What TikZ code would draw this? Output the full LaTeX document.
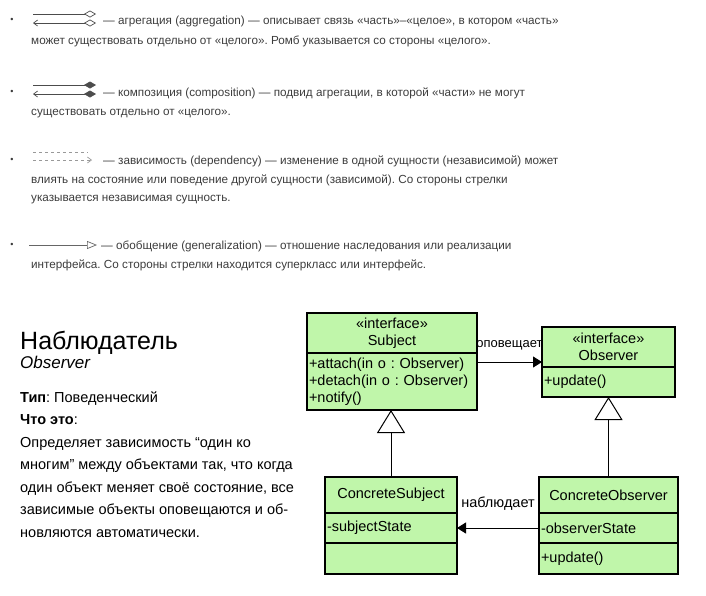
\documentclass[tikz,border=0pt]{standalone}
\usepackage{fontspec}
\setmainfont{Liberation Sans}
\usetikzlibrary{positioning, arrows.meta}
\definecolor{umlgreen}{RGB}{192,246,170}
\definecolor{legendgray}{RGB}{60,60,60}
\frenchspacing

\begin{document}
\begin{tikzpicture}[x=1pt, y=-1pt,
	legend/.style={anchor=base west, inner sep=0pt, text=legendgray, font=\fontsize{11.7}{13}\selectfont},
	bullet/.style={inner sep=0pt, text=legendgray, font=\fontsize{9}{9}\selectfont},
	legline/.style={draw=black!70, line width=0.7pt},
	panel/.style={anchor=base west, inner sep=0pt, font=\fontsize{14.5}{17}\selectfont},
	compartment/.style={draw, line width=1.5pt, fill=umlgreen, outer sep=0pt, inner xsep=2pt, inner ysep=0pt, text width=#1, font=\fontsize{14.5}{17}\selectfont},
	header/.style={compartment=#1, align=center},
	body/.style={compartment=#1, align=left},
	assoc/.style={line width=1pt, -{Triangle[length=9pt, width=11pt]}},
	gen/.style={line width=1pt, -{Triangle[open, length=23pt, width=28pt, fill=white]}},
	edgelabel/.style={inner sep=0pt, font=\fontsize{13}{13}\selectfont}]
	\useasboundingbox (0,0) rectangle (706,595);

	\node[bullet] (b1) at (12,20) {•};
	\node[bullet] (b2) at (12,92) {•};
	\node[bullet] (b3) at (12,160) {•};
	\node[bullet] (b4) at (12,245) {•};

	\draw[legline, -{Diamond[open, length=12pt, width=7pt]}] (33,14) -- (96,14);
	\draw[legline, {Straight Barb[length=4pt, width=6pt]}-{Diamond[open, length=12pt, width=7pt]}] (33,23) -- (96,23);
	\draw[legline, -{Diamond[length=12pt, width=7pt]}] (33,85) -- (96,85);
	\draw[legline, {Straight Barb[length=4pt, width=6pt]}-{Diamond[length=12pt, width=7pt]}] (33,94) -- (96,94);
	\draw[legline, draw=black!40, dashed] (33,152) -- (88,152);
	\draw[legline, draw=black!40, dashed, -{Straight Barb[length=4pt, width=6pt]}] (33,160) -- (92,160);
	\draw[legline, draw=black!60, -{Triangle[open, length=10pt, width=8pt]}] (29,245) -- (97,245);

	\node[legend] (agg1) at (103,24) {— агрегация (aggregation) — описывает связь «часть»–«целое», в котором «часть»};
	\node[legend] (agg2) at (31,44) {может существовать отдельно от «целого». Ромб указывается со стороны «целого».};
	\node[legend] (comp1) at (103,96) {— композиция (composition) — подвид агрегации, в которой «части» не могут};
	\node[legend] (comp2) at (31,115) {существовать отдельно от «целого».};
	\node[legend] (dep1) at (103,164) {— зависимость (dependency) — изменение в одной сущности (независимой) может};
	\node[legend] (dep2) at (31,183) {влиять на состояние или поведение другой сущности (зависимой). Со стороны стрелки};
	\node[legend] (dep3) at (31,201) {указывается независимая сущность.};
	\node[legend] (gen1) at (101,249) {— обобщение (generalization) — отношение наследования или реализации};
	\node[legend] (gen2) at (31,268) {интерфейса. Со стороны стрелки находится суперкласс или интерфейс.};

	\node[panel, font=\fontsize{25}{25}\selectfont] (title) at (20,349) {Наблюдатель};
	\node[panel, font=\fontsize{17}{17}\selectfont\itshape] (subtitle) at (20,368) {Observer};
	\node[panel] (kind) at (20,402) {\textbf{Тип}: Поведенческий};
	\node[panel] (what) at (20,424.5) {\textbf{Что это}:};
	\node[panel] (d1) at (20,447) {Определяет зависимость “один ко};
	\node[panel] (d2) at (20,469.5) {многим” между объектами так, что когда};
	\node[panel] (d3) at (20,492) {один объект меняет своё состояние, все};
	\node[panel] (d4) at (20,514.5) {зависимые объекты оповещаются и об-};
	\node[panel] (d5) at (20,537) {новляются автоматически.};

	\node[header=166pt, minimum height=40pt, anchor=north west] (subjhead) at (307,313) {«interface»\\Subject};
	\node[body=166pt, minimum height=57pt, below=0pt of subjhead] (subjops) {+attach(in o : Observer)\\+detach(in o : Observer)\\+notify()};

	\node[header=129pt, minimum height=40pt, anchor=north west] (obshead) at (542,327) {«interface»\\Observer};
	\node[body=129pt, minimum height=30pt, below=0pt of obshead] (obsops) {+update()};

	\node[header=128pt, minimum height=36pt, anchor=north west] (cshead) at (325,477) {ConcreteSubject};
	\node[body=128pt, minimum height=30pt, below=0pt of cshead] (csatt) {-subjectState};
	\node[body=128pt, minimum height=31pt, below=0pt of csatt] (csops) {};

	\node[header=135pt, minimum height=36pt, anchor=north west] (cohead) at (539,477) {ConcreteObserver};
	\node[body=135pt, minimum height=30pt, below=0pt of cohead] (coatt) {-observerState};
	\node[body=135pt, minimum height=31pt, below=0pt of coatt] (coops) {+update()};

	\coordinate (notify) at ([yshift=-9pt]subjops.north east);
	\draw[assoc] (notify) -- (notify -| obshead.west) node[edgelabel, midway, above=11pt] {оповещает};
	\draw[assoc] (coatt.west) -- (csatt.east) node[edgelabel, midway, above=17pt, font=\fontsize{14.5}{14.5}\selectfont] {наблюдает};
	\draw[gen] (cshead.north) -- (cshead.north |- subjops.south);
	\draw[gen] (cohead.north) -- (cohead.north |- obsops.south);
\end{tikzpicture}
\end{document}
